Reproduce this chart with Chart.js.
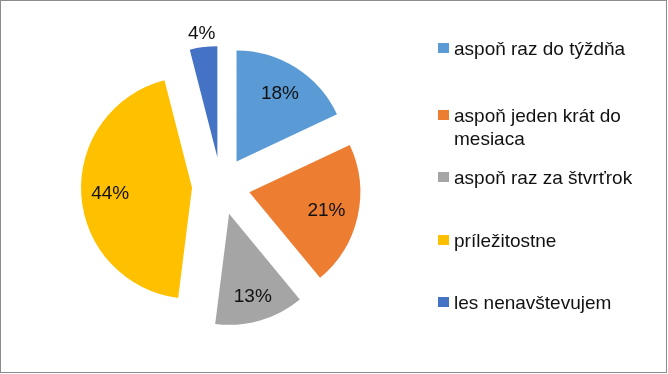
<!DOCTYPE html>
<html>
<head>
<meta charset="utf-8">
<script src="https://cdn.jsdelivr.net/npm/chart.js@4/dist/chart.umd.min.js"></script>
<style>
  html, body { margin: 0; padding: 0; background: #fff; }
  canvas { display: block; }
</style>
</head>
<body>
<canvas id="pieChart" width="668" height="374"></canvas>
<script>
// data
const categories = ['aspoň raz do týždňa', 'aspoň jeden krát do mesiaca', 'aspoň raz za štvrťrok', 'príležitostne', 'les nenavštevujem'];
const legendLines = [['aspoň raz do týždňa'], ['aspoň jeden krát do', 'mesiaca'], ['aspoň raz za štvrťrok'], ['príležitostne'], ['les nenavštevujem']];
const shares = [18, 21, 13, 44, 4];
const sliceColors = ['#5B9BD5', '#ED7D31', '#A5A5A5', '#FFC000', '#4472C4'];

// layout
const explode = 29;
const labelDist = [81, 79, 85, 82, 125];
const legendX = 438;
const legendBaselines = [55, 122, 184, 247, 309];
const lineHeight = 23;
const font = '19px "Liberation Sans", Arial, sans-serif';

// slices pulled outward like excel
const explodePlugin = {
  id: 'explode',
  beforeDatasetDraw(chart, args) {
    const ctx = chart.ctx;
    args.meta.data.forEach(arc => {
      const mid = (arc.startAngle + arc.endAngle) / 2;
      ctx.save();
      ctx.translate(Math.cos(mid) * explode, Math.sin(mid) * explode);
      arc.draw(ctx);
      ctx.restore();
    });
    return false;
  },
  afterDatasetsDraw(chart) {
    const ctx = chart.ctx;
    const meta = chart.getDatasetMeta(0);
    ctx.save();
    ctx.font = font;
    ctx.fillStyle = '#111';
    ctx.textAlign = 'center';
    ctx.textBaseline = 'middle';
    meta.data.forEach((arc, i) => {
      const mid = (arc.startAngle + arc.endAngle) / 2;
      const d = explode + labelDist[i];
      ctx.fillText(shares[i] + '%', arc.x + Math.cos(mid) * d, arc.y + Math.sin(mid) * d + 1);
    });
    ctx.restore();
  },
  afterDraw(chart) {
    const ctx = chart.ctx;
    ctx.save();
    ctx.font = font;
    ctx.textAlign = 'left';
    ctx.textBaseline = 'alphabetic';
    legendLines.forEach((lines, i) => {
      const y = legendBaselines[i];
      ctx.fillStyle = sliceColors[i];
      ctx.fillRect(legendX, y - 12, 11, 10);
      ctx.fillStyle = '#111';
      lines.forEach((t, j) => ctx.fillText(t, legendX + 16, y + j * lineHeight));
    });
    // outer frame
    ctx.strokeStyle = '#8c8c8c';
    ctx.lineWidth = 1;
    ctx.strokeRect(0.5, 0.5, 666, 372);
    ctx.restore();
  }
};

new Chart(document.getElementById('pieChart'), {
  type: 'pie',
  data: {
    labels: categories,
    datasets: [{
      data: shares,
      backgroundColor: sliceColors,
      borderWidth: 0,
      radius: 111
    }]
  },
  options: {
    responsive: false,
    animation: false,
    layout: { padding: { left: 0, right: 226, top: 0, bottom: 2 } },
    plugins: {
      legend: { display: false },
      tooltip: { enabled: false }
    }
  },
  plugins: [explodePlugin]
});
</script>
</body>
</html>
